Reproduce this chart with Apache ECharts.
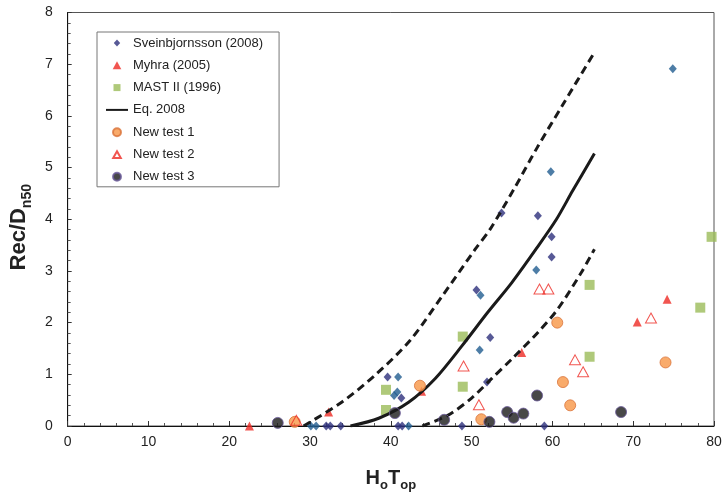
<!DOCTYPE html>
<html>
<head>
<meta charset="utf-8">
<script src="https://cdn.jsdelivr.net/npm/echarts@6/dist/echarts.min.js"></script>
<style>
html,body{margin:0;padding:0;background:#fff;}
#c{width:726px;height:497px;}
</style>
</head>
<body>
<div id="c"></div>
<script>
// ---- data ----
const xTicks = [0, 10, 20, 30, 40, 50, 60, 70, 80];
const yTicks = [0, 1, 2, 3, 4, 5, 6, 7, 8];

const sveinNavy = [[53.7,4.12],[58.2,4.07],[59.9,3.66],[59.9,3.27],[50.6,2.63],[52.3,1.71],[51.9,0.85],
  [39.6,0.95],[41.3,0.54],[32.0,0],[32.5,0],[33.8,0],[40.9,0],[41.4,0],[48.8,0],[59.0,0]];
const sveinBlue = [[74.9,6.91],[59.8,4.92],[58.0,3.02],[51.1,2.53],[51.0,1.47],[40.9,0.95],[40.8,0.66],
  [40.4,0.59],[30.1,0],[30.75,0],[42.2,0]];
const myhra = [[22.5,0],[32.3,0.27],[43.8,0.67],[56.2,1.42],[70.5,2.01],[74.2,2.45]];
const mast = [[39.4,0.70],[39.4,0.31],[48.9,1.73],[48.9,0.76],[64.6,1.34],[64.6,2.73],[78.3,2.29],[79.7,3.66]];
const test1 = [[28.1,0.08],[43.6,0.78],[51.2,0.13],[60.6,2.0],[61.3,0.85],[62.2,0.40],[74.0,1.23]];
const test2 = [[28.3,0.11],[49.0,1.16],[50.9,0.41],[58.4,2.65],[59.5,2.65],[62.8,1.28],[63.8,1.05],[72.2,2.09]];
const test3 = [[26.0,0.06],[40.5,0.25],[46.6,0.12],[52.2,0.08],[54.4,0.27],[55.2,0.16],[56.4,0.24],[58.1,0.59],[68.5,0.27]];

const eqX = [35, 38.5, 42.2, 45.5, 48.8, 52, 55, 58, 60.5, 62.5, 65.2];
const eqY = [0, 0.15, 0.46, 0.92, 1.55, 2.2, 2.78, 3.43, 4.0, 4.55, 5.27];
const upX = [29.2, 34, 38.1, 42.4, 46.3, 50.4, 52.3, 55.3, 58.2, 61.3, 65.2];
const upY = [0, 0.47, 0.99, 1.66, 2.5, 3.41, 3.81, 4.6, 5.41, 6.22, 7.23];
const loX = [43.9, 47.1, 50, 52.5, 55, 58.2, 60.6, 63.5, 65.2];
const loY = [0, 0.21, 0.54, 0.92, 1.3, 1.81, 2.25, 2.95, 3.42];

const legendNames = ['Sveinbjornsson (2008)', 'Myhra (2005)', 'MAST II (1996)', 'Eq. 2008', 'New test 1', 'New test 2', 'New test 3'];

const zip = (xs, ys) => xs.map((x, i) => [x, ys[i]]);
const FONT = 'Liberation Sans, Arial, sans-serif';

// legend icon shapes (22x8 box, the shape centred in it)
const BOX = 'M0,0M22,8';
const legendIcons = {
  'Sveinbjornsson (2008)': 'path://' + BOX + 'M11,0.6L14.2,4L11,7.4L7.8,4Z',
  'Myhra (2005)': 'path://' + BOX + 'M11,0L15.3,8L6.7,8Z',
  'MAST II (1996)': 'path://' + BOX + 'M7.5,0.5H14.5V7.5H7.5Z',
  'New test 1': 'path://' + BOX + 'M15,4A4,4,0,1,1,7,4A4,4,0,1,1,15,4Z',
  'New test 2': 'path://' + BOX + 'M11,0.7L14.8,7.5L7.2,7.5Z',
  'New test 3': 'path://' + BOX + 'M15,4A4,4,0,1,1,7,4A4,4,0,1,1,15,4Z'
};
const legendData = legendNames.map(n => n === 'Eq. 2008'
  ? {name: n, itemStyle: {opacity: 0}}
  : {name: n, icon: legendIcons[n]});

const chart = echarts.init(document.getElementById('c'), null, {renderer: 'canvas'});
chart.setOption({
  animation: false,
  backgroundColor: '#fff',
  grid: {left: 63, right: 12, top: 12.5, bottom: 71, show: true, borderColor: '#555', borderWidth: 1},
  legend: {
    data: legendData,
    orient: 'vertical',
    left: 97, top: 32,
    padding: [4, 16, 3, 8],
    itemWidth: 22, itemHeight: 8, itemGap: 8.3,
    borderColor: '#777', borderWidth: 1,
    backgroundColor: '#fff',
    textStyle: {fontSize: 13, fontFamily: FONT, color: '#222', lineHeight: 14},
    selectedMode: false
  },
  xAxis: {
    type: 'value', min: xTicks[0], max: xTicks[xTicks.length - 1], interval: 10,
    axisLine: {show: true, onZero: false, lineStyle: {color: '#111', width: 1}},
    axisTick: {show: true, inside: true, length: 5, lineStyle: {color: '#333'}},
    minorTick: {show: true, splitNumber: 5, length: 3, lineStyle: {color: '#555'}},
    splitLine: {show: false},
    axisLabel: {fontSize: 14, fontFamily: FONT, color: '#222', margin: 9},
    name: '{m|H}{s|o}{m|T}{s|op}',
    nameLocation: 'middle', nameGap: 38,
    nameTextStyle: {
      rich: {
        m: {fontSize: 20, fontWeight: 'bold', fontFamily: FONT, color: '#222', lineHeight: 24, verticalAlign: 'bottom'},
        s: {fontSize: 13, fontWeight: 'bold', fontFamily: FONT, color: '#222', lineHeight: 13, verticalAlign: 'bottom', padding: [0, 0, -4, 0]}
      }
    }
  },
  yAxis: {
    type: 'value', min: yTicks[0], max: yTicks[yTicks.length - 1], interval: 1,
    axisLine: {show: true, onZero: false, lineStyle: {color: '#111', width: 1}},
    axisTick: {show: true, inside: true, length: 4, lineStyle: {color: '#333'}},
    minorTick: {show: true, splitNumber: 5, length: 3, lineStyle: {color: '#555'}},
    splitLine: {show: false},
    axisLabel: {fontSize: 14, fontFamily: FONT, color: '#222', margin: 15},
    name: '{m|Rec/D}{s|n50}',
    nameLocation: 'middle', nameGap: 23, nameRotate: 90,
    nameTextStyle: {
      padding: [0, 16, 0, 0],
      rich: {
        m: {fontSize: 22, fontWeight: 'bold', fontFamily: FONT, color: '#222', lineHeight: 24, verticalAlign: 'bottom'},
        s: {fontSize: 14, fontWeight: 'bold', fontFamily: FONT, color: '#222', lineHeight: 14, verticalAlign: 'bottom', padding: [0, 0, -4, 0]}
      }
    }
  },
  series: [
    {name: 'Sveinbjornsson (2008)', type: 'scatter', data: sveinNavy, symbol: 'diamond', symbolSize: [8, 9],
      itemStyle: {color: '#2D2F7C'}, z: 3},
    {name: 'Sveinbjornsson (2008)', type: 'scatter', data: sveinBlue, symbol: 'diamond', symbolSize: [8, 9],
      itemStyle: {color: '#215C90'}, z: 3},
    {name: 'Myhra (2005)', type: 'scatter', data: myhra, symbol: 'triangle', symbolSize: [9, 9],
      itemStyle: {color: '#EE2A24'}, z: 3},
    {name: 'MAST II (1996)', type: 'scatter', data: mast, symbol: 'rect', symbolSize: 10,
      itemStyle: {color: '#9BBB59'}, z: 3},
    {name: 'Eq. 2008', type: 'line', data: zip(eqX, eqY), showSymbol: false, symbol: 'none', smooth: 0.3,
      itemStyle: {color: '#1a1a1a'},
      lineStyle: {color: '#1a1a1a', width: 3}, z: 4},
    {name: 'Upper bound', type: 'line', data: zip(upX, upY), showSymbol: false, symbol: 'none', smooth: 0.3,
      itemStyle: {color: '#1a1a1a'},
      lineStyle: {color: '#1a1a1a', width: 3, type: [8, 5]}, z: 4},
    {name: 'Lower bound', type: 'line', data: zip(loX, loY), showSymbol: false, symbol: 'none', smooth: 0.3,
      itemStyle: {color: '#1a1a1a'},
      lineStyle: {color: '#1a1a1a', width: 3, type: [8, 5]}, z: 4},
    {name: 'New test 1', type: 'scatter', data: test1, symbol: 'circle', symbolSize: 11,
      itemStyle: {color: '#F79646', borderColor: '#D9733A', borderWidth: 1}, z: 5},
    {name: 'New test 2', type: 'scatter', data: test2, symbol: 'triangle', symbolSize: [11, 10],
      itemStyle: {color: 'rgba(255,255,255,0)', borderColor: '#EE2A24', borderWidth: 1}, z: 5},
    {name: 'New test 3', type: 'scatter', data: test3, symbol: 'circle', symbolSize: 11,
      itemStyle: {color: '#1A1A1A', borderColor: '#6A5A9A', borderWidth: 1}, z: 5}
  ]
});
</script>
</body>
</html>
